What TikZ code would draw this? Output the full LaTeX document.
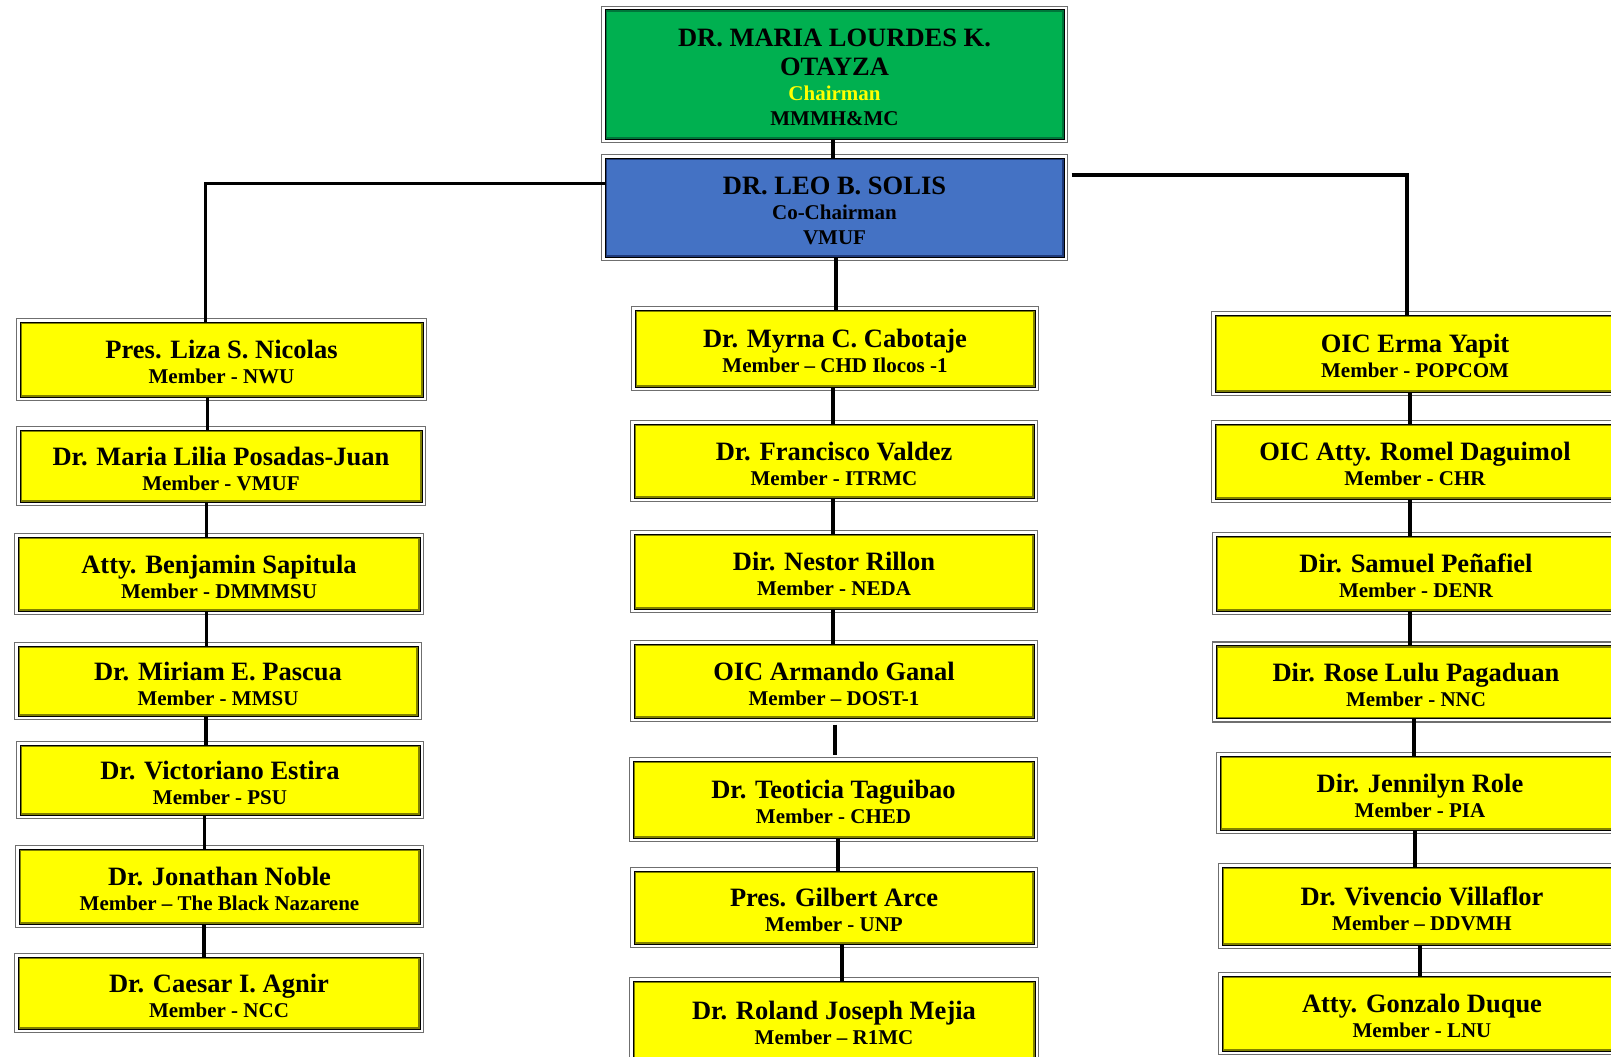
\documentclass[tikz,border=0pt]{standalone}
\usepackage{fontspec}
\setmainfont{Liberation Serif}
\definecolor{cgreen}{HTML}{00B050}
\definecolor{cgreenin}{HTML}{00753A}
\definecolor{cblue}{HTML}{4472C4}
\definecolor{cbluein}{HTML}{1F3A7A}
\definecolor{cyel}{HTML}{FFFF00}
\definecolor{cyelin}{HTML}{808000}
\definecolor{cframe}{HTML}{6F6F6F}
\newcommand{\nm}[1]{{\fontsize{26.5}{25}\selectfont\rule{0pt}{24pt}#1}}
\tikzset{
  orgbox/.style={draw=black, line width=1pt, inner sep=0pt, align=center,
    font=\bfseries\fontsize{21}{25}\selectfont, text=black},
  innerline/.style={path picture={\draw[line width=4pt, #1]
      (path picture bounding box.south west) rectangle (path picture bounding box.north east);}},
  ybox/.style={orgbox, fill=cyel, innerline=cyelin, minimum width=400pt},
  gbox/.style={orgbox, fill=cgreen, innerline=cgreenin},
  bbox/.style={orgbox, fill=cblue, innerline=cbluein},
  link/.style={line width=3.5pt, black},
  outerframe/.style={draw=cframe, line width=1.6pt},
}
\begin{document}
\begin{tikzpicture}[x=1pt, y=-1pt]
\useasboundingbox (0,0) rectangle (1611,1057);
\clip (0,0) rectangle (1611,1057);
\fill[white] (0,0) rectangle (1611,1057);

% top boxes
\node[gbox, minimum width=459pt, minimum height=129pt] (G) at (834.5,74.5)
  {\nm{DR. MARIA LOURDES K.}\\[4pt]\nm{OTAYZA}\\{\color{cyel}Chairman}\\MMMH\&MC};
\node[bbox, minimum width=459pt, minimum height=99pt] (B) at (834.5,207.5)
  {\nm{DR. LEO B. SOLIS}\\Co-Chairman\\VMUF};

% left column
\node[ybox, minimum width=403pt, minimum height=75pt] (L1) at (221.5,359.5) {\nm{Pres. Liza S. Nicolas}\\Member - NWU};
\node[ybox, minimum width=402pt, minimum height=72pt] (L2) at (221,466) {\nm{Dr. Maria Lilia Posadas-Juan}\\Member - VMUF};
\node[ybox, minimum width=402pt, minimum height=74pt] (L3) at (219,574) {\nm{Atty. Benjamin Sapitula}\\Member - DMMMSU};
\node[ybox, minimum width=400pt, minimum height=70pt] (L4) at (218,681) {\nm{Dr. Miriam E. Pascua}\\Member - MMSU};
\node[ybox, minimum width=400pt, minimum height=70pt] (L5) at (220,780) {\nm{Dr. Victoriano Estira}\\Member - PSU};
\node[ybox, minimum width=401pt, minimum height=75pt] (L6) at (219.5,886.5) {\nm{Dr. Jonathan Noble}\\Member – The Black Nazarene};
\node[ybox, minimum width=402pt, minimum height=72pt] (L7) at (219,993) {\nm{Dr. Caesar I. Agnir}\\Member - NCC};

% middle column
\node[ybox, minimum width=400pt, minimum height=77pt] (M1) at (835,348.5) {\nm{Dr. Myrna C. Cabotaje}\\Member – CHD Ilocos -1};
\node[ybox, minimum width=400pt, minimum height=74pt] (M2) at (834,461) {\nm{Dr. Francisco Valdez}\\Member - ITRMC};
\node[ybox, minimum width=400pt, minimum height=75pt] (M3) at (834,571.5) {\nm{Dir. Nestor Rillon}\\Member - NEDA};
\node[ybox, minimum width=400pt, minimum height=74pt] (M4) at (834,681) {\nm{OIC Armando Ganal}\\Member – DOST-1};
\node[ybox, minimum width=401pt, minimum height=77pt] (M5) at (833.5,799.5) {\nm{Dr. Teoticia Taguibao}\\Member - CHED};
\node[ybox, minimum width=400pt, minimum height=73pt] (M6) at (834,907.5) {\nm{Pres. Gilbert Arce}\\Member - UNP};
\node[ybox, minimum width=402pt, minimum height=78pt] (M7) at (834,1020) {\nm{Dr. Roland Joseph Mejia}\\Member – R1MC};

% right column
\node[ybox, minimum height=77pt] (R1) at (1415,353.5) {\nm{OIC Erma Yapit}\\Member - POPCOM};
\node[ybox, minimum height=75pt] (R2) at (1415,461.5) {\nm{OIC Atty. Romel Daguimol}\\Member - CHR};
\node[ybox, minimum height=75pt] (R3) at (1416,573.5) {\nm{Dir. Samuel Peñafiel}\\Member - DENR};
\node[ybox, minimum height=73pt] (R4) at (1416,682) {\nm{Dir. Rose Lulu Pagaduan}\\Member - NNC};
\node[ybox, minimum height=74pt] (R5) at (1420,793) {\nm{Dir. Jennilyn Role}\\Member - PIA};
\node[ybox, minimum height=78pt] (R6) at (1422,906) {\nm{Dr. Vivencio Villaflor}\\Member – DDVMH};
\node[ybox, minimum height=75pt] (R7) at (1422,1013.5) {\nm{Atty. Gonzalo Duque}\\Member - LNU};

% outer frames
\foreach \n in {G,B,L1,L2,L3,L4,L5,L6,L7,M1,M2,M3,M4,M5,M6,M7,R1,R2,R3,R4,R5,R6,R7}
  \draw[outerframe] ([shift={(-3pt,-3pt)}]\n.south west) rectangle ([shift={(3pt,3pt)}]\n.north east);

% connectors
\draw[link] ([xshift=-1.5pt]G.south) -- ([xshift=-1.5pt]G.south |- B.north);
\draw[link] ([yshift=24pt]B.west) -| ([xshift=-16pt]L1.north);
\draw[link] ([xshift=7pt,yshift=32.5pt]B.east) -| ([xshift=-8pt]R1.north);
\draw[link] ([xshift=1.5pt]B.south) -- ([xshift=1.5pt]B.south |- M1.north);

\draw[link] ([xshift=-14pt]L1.south) -- ([xshift=-14pt]L1.south |- L2.north);
\draw[link] ([xshift=-14.5pt]L2.south) -- ([xshift=-14.5pt]L2.south |- L3.north);
\draw[link] ([xshift=-12.5pt]L3.south) -- ([xshift=-12.5pt]L3.south |- L4.north);
\draw[link] ([xshift=-12pt]L4.south) -- ([xshift=-12pt]L4.south |- L5.north);
\draw[link] ([xshift=-15.5pt]L5.south) -- ([xshift=-15.5pt]L5.south |- L6.north);
\draw[link] ([xshift=-15.5pt]L6.south) -- ([xshift=-15.5pt]L6.south |- L7.north);

\draw[link] ([xshift=-2pt]M1.south) -- ([xshift=-2pt]M1.south |- M2.north);
\draw[link] ([xshift=-1pt]M2.south) -- ([xshift=-1pt]M2.south |- M3.north);
\draw[link] ([xshift=-1pt]M3.south) -- ([xshift=-1pt]M3.south |- M4.north);
\draw[link] ([xshift=1pt,yshift=-6pt]M4.south) -- ([xshift=1pt,yshift=6pt]M4.south |- M5.north);
\draw[link] ([xshift=4.5pt]M5.south) -- ([xshift=4.5pt]M5.south |- M6.north);
\draw[link] ([xshift=8pt]M6.south) -- ([xshift=8pt]M6.south |- M7.north);

\draw[link] ([xshift=-5pt]R1.south) -- ([xshift=-5pt]R1.south |- R2.north);
\draw[link] ([xshift=-5pt]R2.south) -- ([xshift=-5pt]R2.south |- R3.north);
\draw[link] ([xshift=-6pt]R3.south) -- ([xshift=-6pt]R3.south |- R4.north);
\draw[link] ([xshift=-2pt]R4.south) -- ([xshift=-2pt]R4.south |- R5.north);
\draw[link] ([xshift=-5pt]R5.south) -- ([xshift=-5pt]R5.south |- R6.north);
\draw[link] ([xshift=-2pt]R6.south) -- ([xshift=-2pt]R6.south |- R7.north);
\end{tikzpicture}
\end{document}
